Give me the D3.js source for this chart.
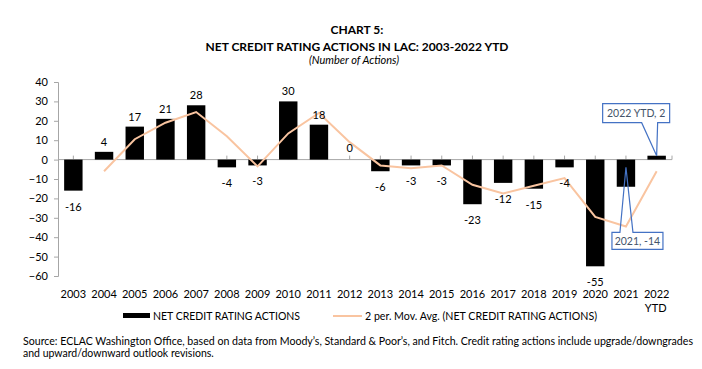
<!DOCTYPE html>
<html>
<head>
<meta charset="utf-8">
<script src="https://cdn.jsdelivr.net/npm/d3@7"></script>
<style>
  body { margin: 0; background: #fff; }
  svg { display: block; font-family: Lato, "Open Sans", sans-serif; }
</style>
</head>
<body>
<div id="chart"></div>
<script>
// Data
const years = ["2003", "2004", "2005", "2006", "2007", "2008", "2009", "2010", "2011", "2012",
  "2013", "2014", "2015", "2016", "2017", "2018", "2019", "2020", "2021", "2022"];
const netActions = [-16, 4, 17, 21, 28, -4, -3, 30, 18, 0, -6, -3, -3, -23, -12, -15, -4, -55, -14, 2];
// 2 per. moving average, starts at 2004
const movAvgYears = years.slice(1);
const movAvg = [-6, 10.5, 19, 24.5, 12, -3.5, 13.5, 24, 9, -3, -4.5, -3, -13, -17.5, -13.5, -9.5, -29.5, -34.5, -6];
const yTicks = [-60, -50, -40, -30, -20, -10, 0, 10, 20, 30, 40];
const callouts = [
  { year: "2022", value: 2, text: "2022 YTD, 2" },
  { year: "2021", value: -4, text: "2021, -14" },
];

const WIDTH = 702, HEIGHT = 369;
const svg = d3.select("#chart").append("svg")
  .attr("width", WIDTH)
  .attr("height", HEIGHT);

// Titles
svg.append("text")
  .attr("x", 357).attr("y", 34)
  .attr("text-anchor", "middle")
  .style("font-weight", "bold").style("font-size", "12px")
  .text("CHART 5:");
svg.append("text")
  .attr("x", 357).attr("y", 51)
  .attr("text-anchor", "middle")
  .style("font-weight", "bold").style("font-size", "12px")
  .attr("textLength", 303).attr("lengthAdjust", "spacingAndGlyphs")
  .text("NET CREDIT RATING ACTIONS IN LAC: 2003-2022 YTD");
svg.append("text")
  .attr("x", 354).attr("y", 64)
  .attr("text-anchor", "middle")
  .style("font-style", "italic").style("font-size", "11px")
  .text("(Number of Actions)");

// Scales
const x = d3.scaleBand()
  .domain(years)
  .range([58, 672])
  .paddingInner(0.4)
  .paddingOuter(0.2);
const cx = (d) => x(d) + x.bandwidth() / 2;

const y = d3.scaleLinear()
  .domain([-60, 40])
  .range([276, 82]);

const axisColor = "#a6a6a6";

// Y axis
const yAxis = svg.append("g")
  .attr("transform", "translate(58,0)")
  .call(d3.axisLeft(y).tickValues(yTicks).tickSize(4).tickPadding(6));
yAxis.select(".domain").attr("stroke", axisColor);
yAxis.selectAll(".tick line").attr("stroke", axisColor);
yAxis.selectAll(".tick text")
  .style("font-size", "11px")
  .style("font-family", "Lato, sans-serif")
  .attr("fill", "#000");

// X axis line at zero with small ticks at category centres
svg.append("line")
  .attr("x1", 58).attr("x2", 672)
  .attr("y1", y(0)).attr("y2", y(0))
  .attr("stroke", axisColor);
svg.selectAll(".xtick")
  .data(years.concat(["end"]))
  .enter().append("line")
  .attr("class", "xtick")
  .attr("x1", (d) => (d === "end" ? 672 : cx(d)))
  .attr("x2", (d) => (d === "end" ? 672 : cx(d)))
  .attr("y1", y(0) - 4).attr("y2", y(0))
  .attr("stroke", axisColor);

// Year labels along the bottom
svg.selectAll(".xlabel")
  .data(years)
  .enter().append("text")
  .attr("class", "xlabel")
  .attr("x", (d) => cx(d))
  .attr("y", 298)
  .attr("text-anchor", "middle")
  .style("font-size", "11px")
  .text((d) => d);
svg.append("text")
  .attr("x", cx("2022") - 1)
  .attr("y", 312)
  .attr("text-anchor", "middle")
  .style("font-size", "11px")
  .text("YTD");

// Bars
svg.selectAll(".bar")
  .data(years)
  .enter().append("rect")
  .attr("class", "bar")
  .attr("x", (d) => x(d))
  .attr("width", x.bandwidth())
  .attr("y", (d, i) => Math.min(y(netActions[i]), y(0)))
  .attr("height", (d, i) => Math.abs(y(netActions[i]) - y(0)))
  .attr("fill", "#000");

// Moving average line
const line = d3.line()
  .x((d) => cx(d[0]))
  .y((d) => y(d[1]));
svg.append("path")
  .datum(d3.zip(movAvgYears, movAvg))
  .attr("d", line)
  .attr("fill", "none")
  .attr("stroke", "#f9c4a0")
  .attr("stroke-width", 2);

// Bar value labels (last two are shown as callouts)
svg.selectAll(".vlabel")
  .data(years.slice(0, 18))
  .enter().append("text")
  .attr("class", "vlabel")
  .attr("x", (d) => cx(d))
  .attr("y", (d, i) => {
    const v = netActions[i];
    if (v > 0) return y(v) - 6;
    if (v === 0) return y(0) - 8;
    return y(v) + 20;
  })
  .attr("text-anchor", "middle")
  .style("font-size", "11px")
  .text((d, i) => netActions[i]);

// Callouts
const blue = "#4472c4";
callouts.forEach((c) => {
  const tx = cx(c.year);
  const ty = y(c.value);
  let bx0, bx1, by0, by1, p0, p1, path;
  if (c.value > 0) {
    bx0 = tx - 54; bx1 = tx + 13; by0 = ty - 52; by1 = ty - 33;
    p0 = tx - 15; p1 = tx + 1;
    path = `M${bx0},${by0}H${bx1}V${by1}H${p1}L${tx},${ty}L${p0},${by1}H${bx0}Z`;
  } else {
    bx0 = tx - 14; bx1 = tx + 37; by0 = ty + 65; by1 = ty + 82;
    p0 = tx - 6; p1 = tx + 7;
    path = `M${bx0},${by0}H${p0}L${tx},${ty}L${p1},${by0}H${bx1}V${by1}H${bx0}Z`;
  }
  svg.append("rect")
    .attr("x", bx0).attr("y", by0)
    .attr("width", bx1 - bx0).attr("height", by1 - by0)
    .attr("fill", "#fff");
  svg.append("path")
    .attr("d", path)
    .attr("fill", "none")
    .attr("stroke", blue)
    .attr("stroke-width", 1.2);
  svg.append("text")
    .attr("x", (bx0 + bx1) / 2)
    .attr("y", (by0 + by1) / 2 + 4)
    .attr("text-anchor", "middle")
    .style("font-size", "10.5px")
    .attr("fill", "#44546a")
    .text(c.text);
});

// Legend
const legend = svg.append("g");
legend.append("rect")
  .attr("x", 123).attr("y", 313)
  .attr("width", 27).attr("height", 5)
  .attr("fill", "#000");
legend.append("text")
  .attr("x", 153).attr("y", 319.5)
  .style("font-size", "11px")
  .attr("textLength", 147).attr("lengthAdjust", "spacingAndGlyphs")
  .text("NET CREDIT RATING ACTIONS");
legend.append("line")
  .attr("x1", 333).attr("x2", 362)
  .attr("y1", 316).attr("y2", 316)
  .attr("stroke", "#f9c4a0")
  .attr("stroke-width", 2);
legend.append("text")
  .attr("x", 365).attr("y", 319.5)
  .style("font-size", "11px")
  .attr("textLength", 232).attr("lengthAdjust", "spacingAndGlyphs")
  .text("2 per. Mov. Avg. (NET CREDIT RATING ACTIONS)");

// Source note
svg.append("text")
  .attr("x", 23).attr("y", 345)
  .style("font-size", "10.5px")
  .attr("textLength", 670).attr("lengthAdjust", "spacingAndGlyphs")
  .text("Source:  ECLAC Washington Office, based on data from Moody\u2019s, Standard & Poor\u2019s, and Fitch. Credit rating actions include upgrade/downgrades");
svg.append("text")
  .attr("x", 23).attr("y", 357)
  .style("font-size", "10.5px")
  .text("and upward/downward outlook revisions.");
</script>
</body>
</html>
